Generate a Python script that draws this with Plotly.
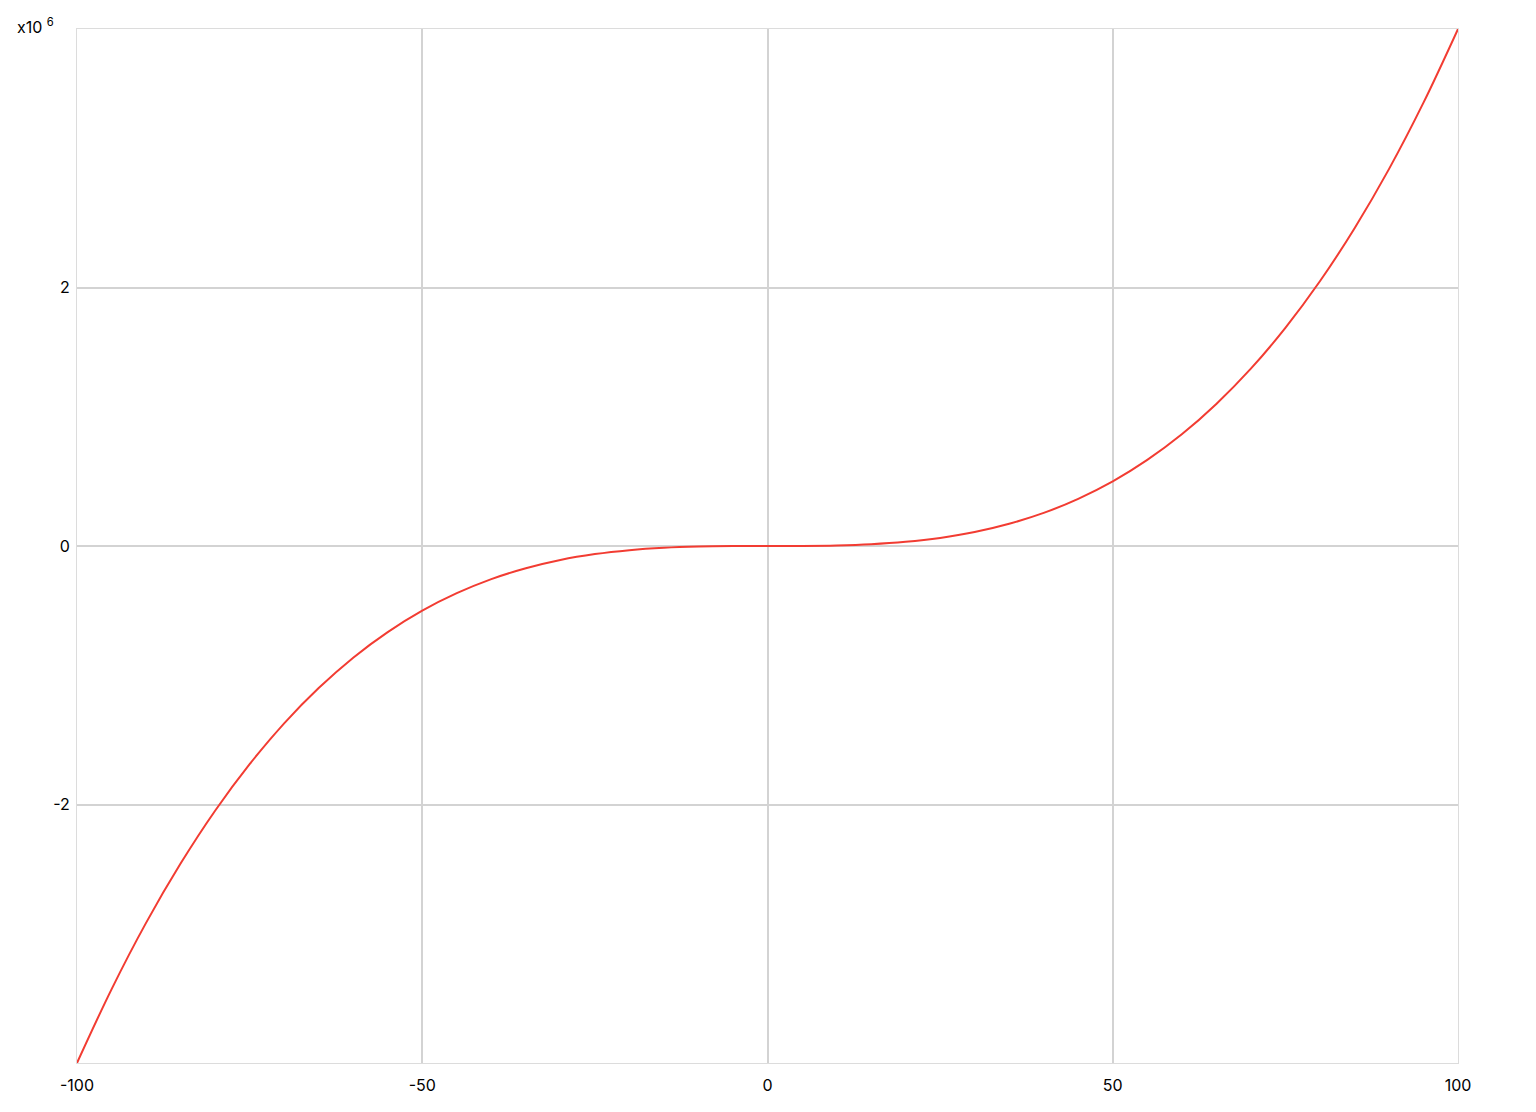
import plotly.graph_objects as go

# x values and y values (in millions)
x_vals = [-100, -95, -90, -85, -80, -75, -70, -65, -60, -55, -50, -45, -40, -35, -30, -25, -20, -15, -10, -5,
          0, 5, 10, 15, 20, 25, 30, 35, 40, 45, 50, 55, 60, 65, 70, 75, 80, 85, 90, 95, 100]
y_vals = [-4.000, -3.430, -2.916, -2.457, -2.048, -1.688, -1.372, -1.099, -0.864, -0.666, -0.500, -0.365,
          -0.256, -0.172, -0.108, -0.0625, -0.032, -0.0135, -0.004, -0.0005,
          0.0, 0.0005, 0.004, 0.0135, 0.032, 0.0625, 0.108, 0.172, 0.256, 0.365, 0.500, 0.666, 0.864,
          1.099, 1.372, 1.688, 2.048, 2.457, 2.916, 3.430, 4.000]

x_ticks = [-100, -50, 0, 50, 100]
x_tick_text = ["-100", "-50", "0", "50", "100"]
y_ticks = [-2, 0, 2]
y_tick_text = ["-2", "0", "2"]

fig = go.Figure()
fig.add_trace(go.Scatter(
    x=x_vals, y=y_vals, mode="lines",
    line=dict(color="#f23c32", width=2, shape="spline"),
    showlegend=False, hoverinfo="skip",
))

grid = "#d3d3d3"
fig.update_layout(
    width=1536, height=1112,
    margin=dict(l=69, r=86, t=21, b=57),
    paper_bgcolor="white", plot_bgcolor="white",
    font=dict(family="Inter, Roboto, sans-serif", size=16, color="#000"),
    xaxis=dict(range=[-100, 100], tickvals=x_ticks, ticktext=x_tick_text,
               showgrid=True, gridcolor=grid, gridwidth=2, zeroline=False,
               showline=True, linecolor="#dcdcdc", linewidth=1, mirror=True,
               ticks="", ticklabelstandoff=8),
    yaxis=dict(range=[-4, 4], tickvals=y_ticks, ticktext=y_tick_text,
               showgrid=True, gridcolor=grid, gridwidth=2, zeroline=False,
               showline=True, linecolor="#dcdcdc", linewidth=1, mirror=True,
               ticks="", ticklabelstandoff=3),
    annotations=[dict(text="x10 <sup>6</sup>", xref="paper", yref="paper",
                      x=-0.015, y=1.003, xanchor="right", yanchor="middle",
                      showarrow=False, font=dict(size=16, color="#000"))],
)

fig.write_html("out.html")
